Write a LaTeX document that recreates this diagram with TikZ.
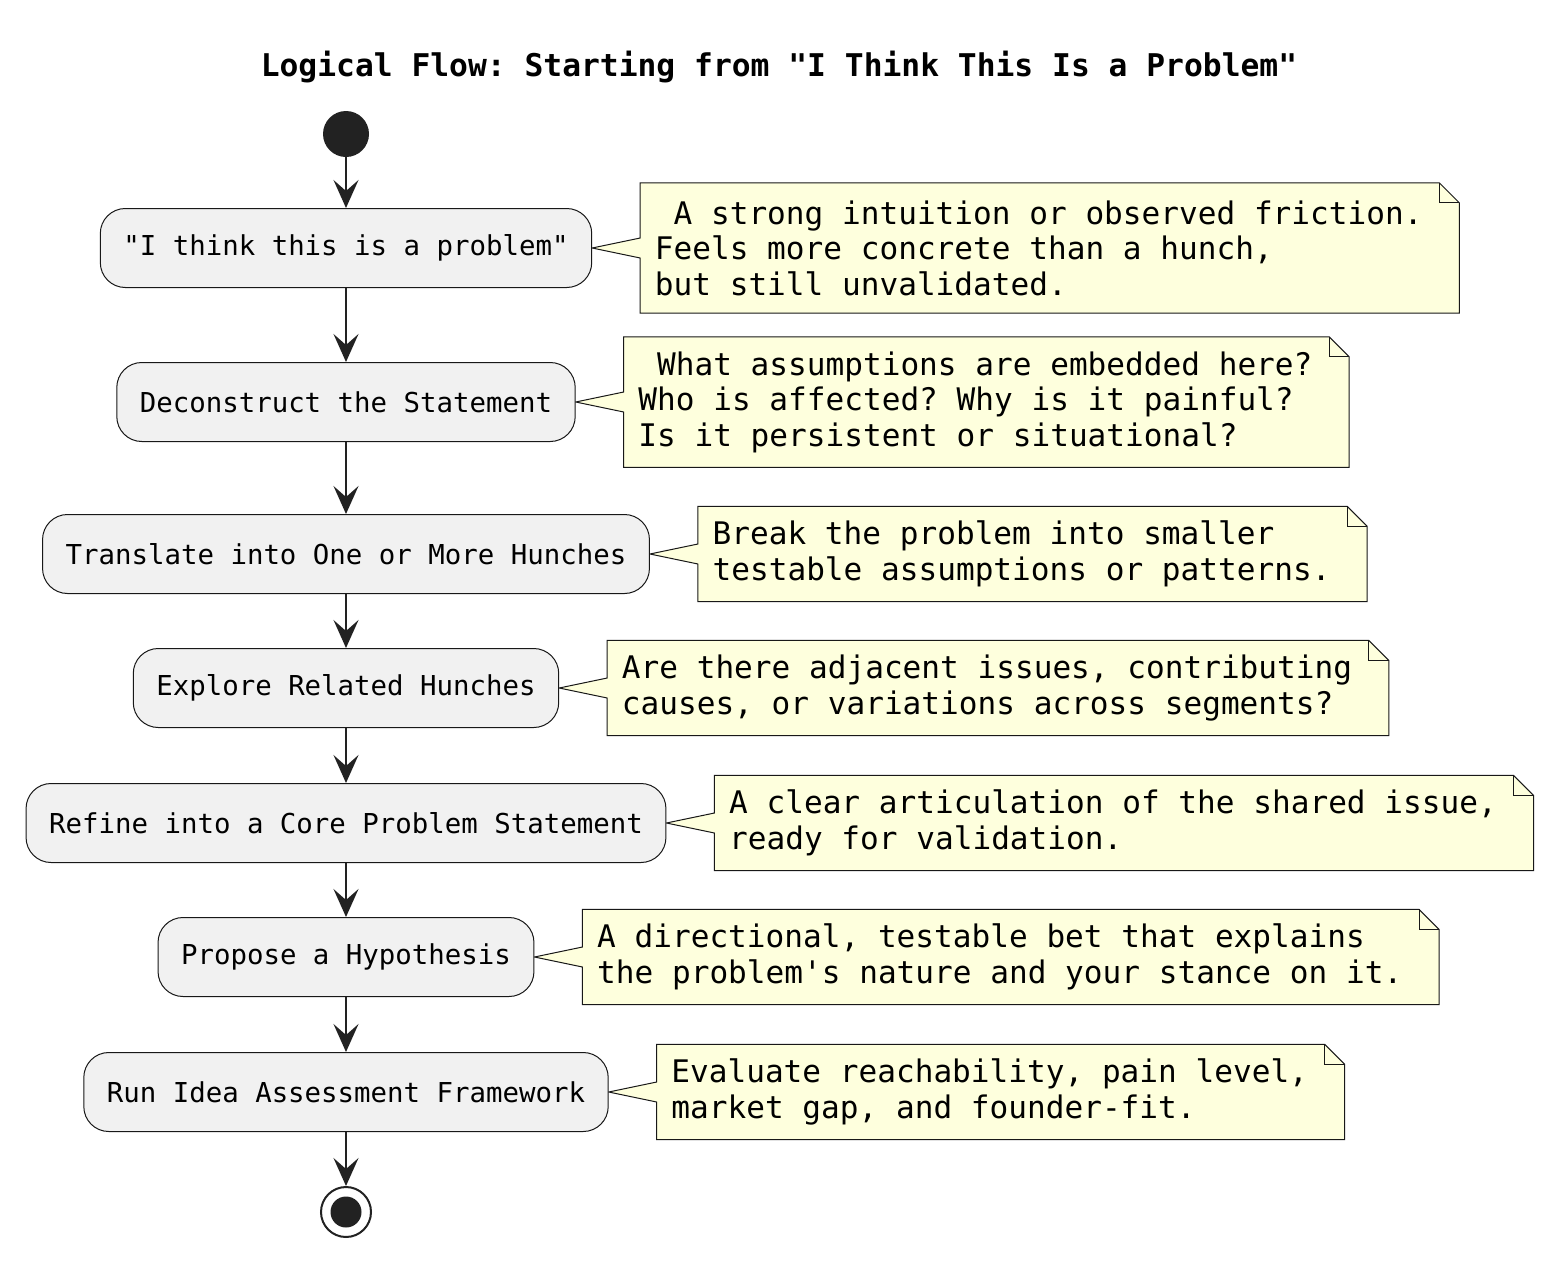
\documentclass[tikz,border=0pt]{standalone}
\usepackage{fontspec}
\setmonofont{DejaVu Sans Mono}
\usetikzlibrary{positioning,arrows.meta}
\definecolor{notefill}{HTML}{FEFFDD}
\definecolor{boxfill}{HTML}{F1F1F1}
\definecolor{edge}{HTML}{181818}
\definecolor{ink}{HTML}{222222}
\pgfdeclarelayer{back}
\pgfsetlayers{back,main}
\tikzset{
  action/.style={rectangle, rounded corners=25pt, draw=edge, line width=1pt, fill=boxfill, minimum height=79pt, inner xsep=23pt, font=\ttfamily\fontsize{27.4}{32}\selectfont},
  notetext/.style={inner xsep=14.5pt, inner ysep=14.5pt, align=left, font=\ttfamily\fontsize{31.1}{35.5}\selectfont},
  notebody/.style={draw=edge, line width=1pt, fill=notefill, line join=miter},
  flow/.style={draw=ink, line width=1.8pt, -{Stealth[length=28pt, width=25pt, inset=11pt]}},
  dot/.style={circle, fill=ink, inner sep=0pt, minimum size=46pt},
}
\begin{document}
\begin{tikzpicture}[x=1pt, y=-1pt]
\useasboundingbox (0,0) rectangle (1560,1261);
\node[font=\ttfamily\bfseries\fontsize{31.3}{36}\selectfont] (title) at (779,67) {Logical Flow: Starting from "I Think This Is a Problem"};
\node[dot] (start) at (346,134) {};
\node[action] (b1) at (346,248) {"I think this is a problem"};
\node[action] (b2) at (346,402) {Deconstruct the Statement};
\node[action] (b3) at (346,554) {Translate into One or More Hunches};
\node[action] (b4) at (346,688) {Explore Related Hunches};
\node[action] (b5) at (346,823) {Refine into a Core Problem Statement};
\node[action] (b6) at (346,957) {Propose a Hypothesis};
\node[action] (b7) at (346,1092) {Run Idea Assessment Framework};
\node[circle, draw=ink, line width=2pt, fill=white, inner sep=0pt, minimum size=50pt] (stop) at (346,1212) {};
\node[dot, minimum size=31pt] (stopdot) at (stop) {};
\draw[flow] (start) -- (b1);
\draw[flow] (b1) -- (b2);
\draw[flow] (b2) -- (b3);
\draw[flow] (b3) -- (b4);
\draw[flow] (b4) -- (b5);
\draw[flow] (b5) -- (b6);
\draw[flow] (b6) -- (b7);
\draw[flow] (b7) -- (stop);
% notes
\node[notetext, minimum height=130pt, right=48pt of b1] (n1) {\ A strong intuition or observed friction.\\Feels more concrete than a hunch,\\but still unvalidated.};
\node[notetext, minimum height=130pt, right=48pt of b2] (n2) {\ What assumptions are embedded here?\\Who is affected? Why is it painful?\\Is it persistent or situational?};
\node[notetext, right=48pt of b3] (n3) {Break the problem into smaller\\testable assumptions or patterns.};
\node[notetext, right=48pt of b4] (n4) {Are there adjacent issues, contributing\\causes, or variations across segments?};
\node[notetext, right=48pt of b5] (n5) {A clear articulation of the shared issue,\\ready for validation.};
\node[notetext, right=48pt of b6] (n6) {A directional, testable bet that explains\\the problem's nature and your stance on it.};
\node[notetext, right=48pt of b7] (n7) {Evaluate reachability, pain level,\\market gap, and founder-fit.};
\begin{pgfonlayer}{back}
\fill[white] (0,0) rectangle (1560,1261);
\draw[notebody] (n1.north west) -- ([xshift=2pt]n1.north east) -- ([xshift=22pt,yshift=-20pt]n1.north east) -- ([xshift=22pt]n1.south east) -- (n1.south west) -- ([yshift=-10pt]n1.west) -- (b1.east) -- ([yshift=10pt]n1.west) -- cycle;
\draw[notebody] (n2.north west) -- ([xshift=2pt]n2.north east) -- ([xshift=22pt,yshift=-20pt]n2.north east) -- ([xshift=22pt]n2.south east) -- (n2.south west) -- ([yshift=-10pt]n2.west) -- (b2.east) -- ([yshift=10pt]n2.west) -- cycle;
\draw[notebody] (n3.north west) -- ([xshift=2pt]n3.north east) -- ([xshift=22pt,yshift=-20pt]n3.north east) -- ([xshift=22pt]n3.south east) -- (n3.south west) -- ([yshift=-10pt]n3.west) -- (b3.east) -- ([yshift=10pt]n3.west) -- cycle;
\draw[notebody] (n4.north west) -- ([xshift=2pt]n4.north east) -- ([xshift=22pt,yshift=-20pt]n4.north east) -- ([xshift=22pt]n4.south east) -- (n4.south west) -- ([yshift=-10pt]n4.west) -- (b4.east) -- ([yshift=10pt]n4.west) -- cycle;
\draw[notebody] (n5.north west) -- ([xshift=2pt]n5.north east) -- ([xshift=22pt,yshift=-20pt]n5.north east) -- ([xshift=22pt]n5.south east) -- (n5.south west) -- ([yshift=-10pt]n5.west) -- (b5.east) -- ([yshift=10pt]n5.west) -- cycle;
\draw[notebody] (n6.north west) -- ([xshift=2pt]n6.north east) -- ([xshift=22pt,yshift=-20pt]n6.north east) -- ([xshift=22pt]n6.south east) -- (n6.south west) -- ([yshift=-10pt]n6.west) -- (b6.east) -- ([yshift=10pt]n6.west) -- cycle;
\draw[notebody] (n7.north west) -- ([xshift=2pt]n7.north east) -- ([xshift=22pt,yshift=-20pt]n7.north east) -- ([xshift=22pt]n7.south east) -- (n7.south west) -- ([yshift=-10pt]n7.west) -- (b7.east) -- ([yshift=10pt]n7.west) -- cycle;
\end{pgfonlayer}
% folded corners
\draw[edge, line width=1pt] ([xshift=2pt]n1.north east) |- ([xshift=22pt,yshift=-20pt]n1.north east);
\draw[edge, line width=1pt] ([xshift=2pt]n2.north east) |- ([xshift=22pt,yshift=-20pt]n2.north east);
\draw[edge, line width=1pt] ([xshift=2pt]n3.north east) |- ([xshift=22pt,yshift=-20pt]n3.north east);
\draw[edge, line width=1pt] ([xshift=2pt]n4.north east) |- ([xshift=22pt,yshift=-20pt]n4.north east);
\draw[edge, line width=1pt] ([xshift=2pt]n5.north east) |- ([xshift=22pt,yshift=-20pt]n5.north east);
\draw[edge, line width=1pt] ([xshift=2pt]n6.north east) |- ([xshift=22pt,yshift=-20pt]n6.north east);
\draw[edge, line width=1pt] ([xshift=2pt]n7.north east) |- ([xshift=22pt,yshift=-20pt]n7.north east);
\end{tikzpicture}
\end{document}
